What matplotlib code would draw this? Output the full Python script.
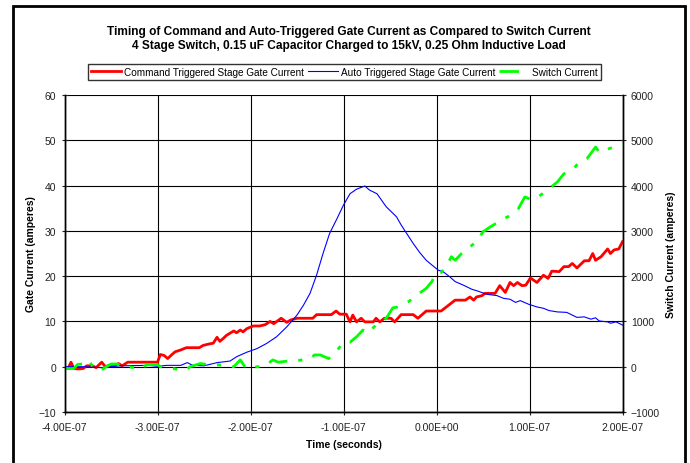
import numpy as np
import matplotlib
matplotlib.use("Agg")
import matplotlib.pyplot as plt
from matplotlib.patches import Rectangle
from matplotlib.ticker import FuncFormatter, MultipleLocator

plt.rcParams['font.family'] = ['Liberation Sans', 'DejaVu Sans']

# time in ns
red_t = [-400, -396, -393, -390, -385, -380, -376, -370, -366, -360, -356, -352, -346, -342, -338, -332,
         -300, -297, -293, -289, -285, -281, -275, -269, -255, -251, -245, -240, -236, -233, -229, -226,
         -222, -218, -215, -211, -208, -204, -197, -190, -184, -179, -175, -167, -161, -157,
         -150, -133, -129, -113, -108, -104, -97, -93, -90, -86, -81, -77, -68, -65, -61, -56,
         -49, -45, -38, -25, -20, -11, 5, 20, 31, 36, 40, 43, 49, 52, 63, 68, 74, 79, 83, 87, 92, 96,
         101, 108, 115, 120, 124, 132, 137, 142, 146, 151, 159, 164, 168, 171, 177, 184, 187, 191, 196, 200]
red_v = [-0.4, -0.3, 1.0, -0.4, -0.5, -0.4, 0.2, 0.2, -0.2, 1.0, 0.0, 0.3, 0.3, 0.7, 0.2, 1.0,
         1.0, 2.7, 2.5, 1.8, 2.6, 3.3, 3.7, 4.2, 4.2, 4.7, 5.0, 5.2, 6.5, 5.6, 6.3, 6.9,
         7.4, 7.9, 7.5, 8.1, 7.7, 8.4, 9.0, 9.0, 9.3, 10.0, 9.5, 10.7, 9.8, 10.3,
         10.7, 10.7, 11.5, 11.5, 12.3, 11.6, 11.6, 9.9, 11.4, 9.9, 10.7, 9.9, 9.9, 10.7, 9.9, 10.7,
         10.7, 9.9, 11.5, 11.5, 10.7, 12.3, 12.3, 14.7, 14.7, 15.4, 14.7, 15.4, 15.7, 16.2, 16.2, 17.9, 16.4,
         18.6, 17.9, 18.6, 17.9, 18.0, 19.6, 18.6, 20.2, 19.5, 21.1, 21.0, 22.1, 22.1, 22.8, 21.8, 23.4,
         23.4, 25.0, 23.5, 24.3, 26.0, 25.0, 25.8, 26.0, 27.6]

blue_t = [-400, -380, -360, -340, -310, -300, -290, -275, -268, -262, -250, -236, -222, -215, -204, -193,
          -183, -172, -161, -150, -143, -136, -129, -122, -115, -107, -100, -93, -86, -77, -72, -64,
          -54, -43, -38, -32, -25, -18, -11, -4, 2, 7, 14,
          20, 29, 38, 43, 54, 65, 72, 79, 85, 90, 99, 108, 115, 121, 130, 140, 151, 159, 166, 171, 175,
          184, 187, 193, 200]
blue_v = [0.0, 0.0, -0.2, 0.2, 0.3, 0.1, 0.3, 0.3, 0.9, 0.3, 0.2, 0.9, 1.25, 2.2, 3.2, 4.0,
          5.1, 6.6, 8.8, 11.4, 13.6, 16.2, 20.2, 25.0, 29.4, 32.7, 35.7, 38.2, 39.2, 39.9, 39.0, 38.2,
          35.3, 33.1, 31.3, 29.4, 27.2, 25.2, 23.5, 22.3, 21.3, 21.0, 19.9,
          18.8, 18.0, 17.1, 16.8, 16.0, 15.7, 15.1, 14.9, 14.2, 14.6, 13.8, 13.2,
          12.9, 12.4, 12.1, 12.0, 10.9, 11.0, 10.5, 10.8, 10.1, 9.9, 9.6, 9.9, 9.2]

green_t = [-400, -390, -386, -380, -375, -371, -367, -360, -355, -350, -343, -339, -332, -319, -312, -300,
           -297, -283, -276, -269, -265, -254, -247, -240, -229, -218, -211, -205, -200, -193, -186, -176,
           -170, -160, -152, -145, -138, -131, -125, -116, -108, -100, -93, -86, -79, -74, -65,
           -54, -47, -41, -29, -20, -11, -5, 0, 5, 11, 16, 20, 27, 38, 43, 50, 58, 67, 72, 79, 88, 95,
           103, 112, 121, 130, 137, 148, 153, 162, 171, 175, 180, 186, 191, 200]
green_v = [-40, -40, 50, 60, 150, 50, -70, -70, 0, 60, 60, 0, 10, -60, 40, 50,
           0, -40, -70, -70, 0, 70, 50, 50, 30, 0, 150, -30, -40, 0, 0, 150,
           100, 125, 125, 150, 150, 260, 260, 180, 330, 540, 540, 660, 810, 740, 920,
           1070, 1300, 1320, 1450, 1600, 1730, 1880, 2080, 2080, 2240, 2430, 2350, 2500, 2680, 2760, 2980,
           3090, 3200, 3270, 3330, 3490, 3750, 3680, 3790, 3930, 4080, 4260, 4380, 4520, 4600, 4850,
           4740, 4740, 4820, 4850, 4930]

fig = plt.figure(figsize=(6.9, 4.64), dpi=100)
ax = fig.add_axes([64.5/690, 51/464, 558/690, 317/464])
ax2 = ax.twinx()

t_red = np.array(red_t) * 1e-9
t_blue = np.array(blue_t) * 1e-9
t_green = np.array(green_t) * 1e-9

l1, = ax.plot(t_red, red_v, color='#FF0000', lw=2.0, zorder=3)
l2, = ax.plot(t_blue, blue_v, color='#0000FF', lw=0.8, zorder=3)
l3, = ax2.plot(t_green, green_v, color='#00FF00', lw=2.0, linestyle=(0, (7, 4, 1.5, 4)))

ax.set_xlim(-4e-7, 2e-7)
ax.set_ylim(-10, 60)
ax2.set_ylim(-1000, 6000)
ax.xaxis.set_major_locator(MultipleLocator(1e-7))
ax.yaxis.set_major_locator(MultipleLocator(10))
ax2.yaxis.set_major_locator(MultipleLocator(1000))
ax.xaxis.set_major_formatter(FuncFormatter(lambda v, p: '{:.2E}'.format(0.0 if abs(v) < 1e-12 else v)))

ax.grid(True, color='black', lw=0.8)
ax.set_axisbelow(True)
for a in (ax, ax2):
    a.spines['top'].set_visible(False)
    for s in a.spines.values():
        s.set_linewidth(1.0)
    a.tick_params(direction='inout', length=5, width=0.8, labelsize=7.5, colors='#222222')
ax.tick_params(axis='x', pad=5)

ax.set_xlabel('Time (seconds)', fontsize=7.5, fontweight='bold', labelpad=5)
ax.set_ylabel('Gate Current (amperes)', fontsize=7.5, fontweight='bold', labelpad=2)
ax2.set_ylabel('Switch Current (amperes)', fontsize=7.5, fontweight='bold', labelpad=4)

fig.text(0.506, 0.932, 'Timing of Command and Auto-Triggered Gate Current as Compared to Switch Current',
         ha='center', va='center', fontsize=8.6, fontweight='bold')
fig.text(0.506, 0.900, '4 Stage Switch, 0.15 uF Capacitor Charged to 15kV, 0.25 Ohm Inductive Load',
         ha='center', va='center', fontsize=8.6, fontweight='bold')

leg = fig.legend([l1, l2, l3],
                 ['Command Triggered Stage Gate Current', 'Auto Triggered Stage Gate Current', 'Switch Current'],
                 loc='center', bbox_to_anchor=(0.499, 0.843), ncol=3, fontsize=7.2, frameon=True,
                 fancybox=False, edgecolor='black', handlelength=3.0, handletextpad=0.3,
                 columnspacing=0.4, borderpad=0.3, borderaxespad=0)
leg.get_frame().set_linewidth(1.0)

fig.patches.append(Rectangle((13/690, -0.02), 672/690, 1.02 - 7/464, transform=fig.transFigure,
                             fill=False, edgecolor='black', lw=2.0))

fig.savefig('out.png', dpi=100)
